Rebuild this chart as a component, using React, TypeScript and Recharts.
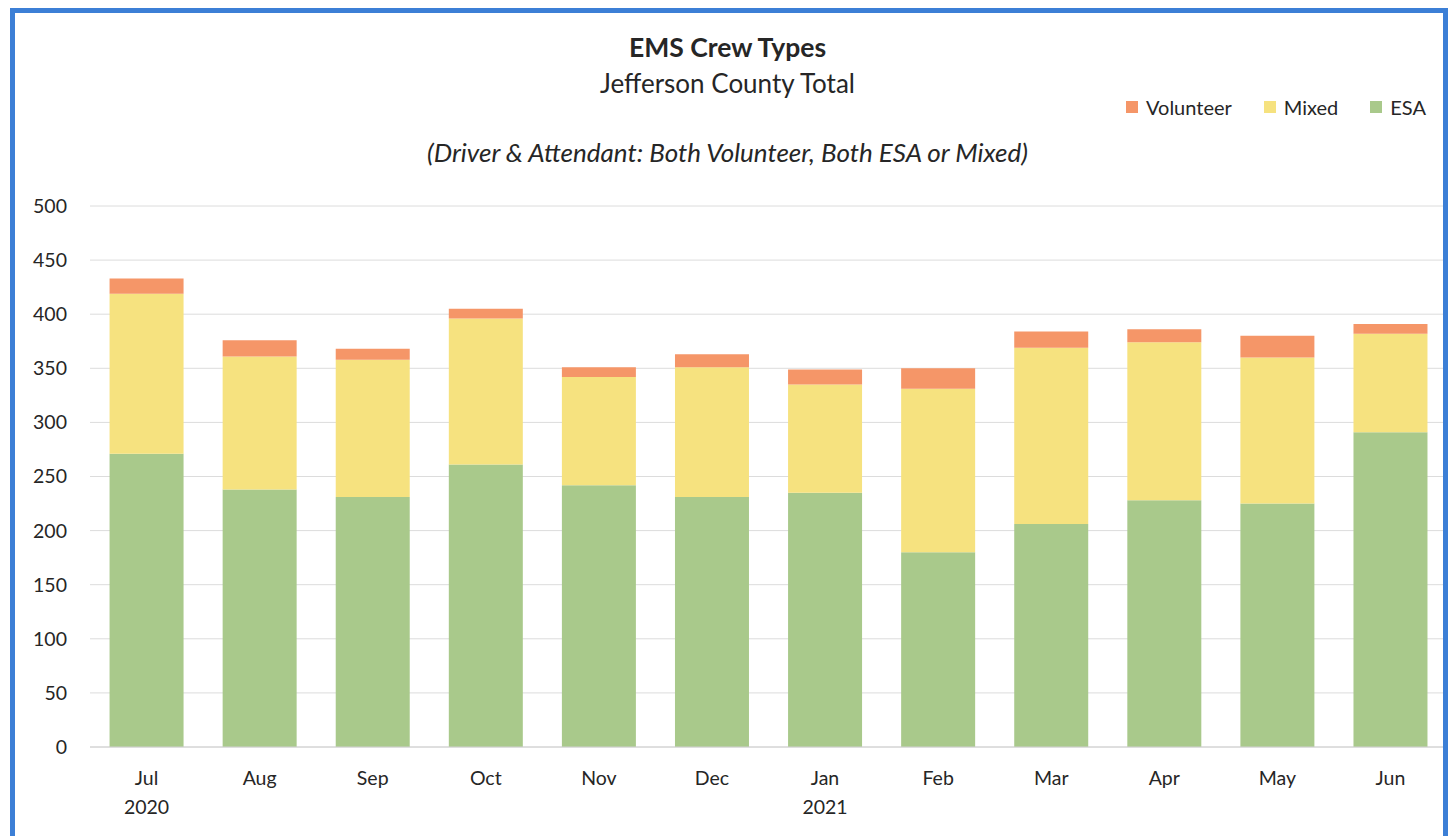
import React from "react";
import { BarChart, Bar, XAxis, YAxis, CartesianGrid } from "recharts";

const months = ["Jul", "Aug", "Sep", "Oct", "Nov", "Dec", "Jan", "Feb", "Mar", "Apr", "May", "Jun"];
const years = ["2020", "", "", "", "", "", "2021", "", "", "", "", ""];
const esa = [271, 238, 231, 261, 242, 231, 235, 180, 206, 228, 225, 291];
const mixed = [148, 123, 127, 135, 100, 120, 100, 151, 163, 146, 135, 91];
const volunteer = [14, 15, 10, 9, 9, 12, 14, 19, 15, 12, 20, 9];
const yTicks = [0, 50, 100, 150, 200, 250, 300, 350, 400, 450, 500];

const seriesNames = ["ESA", "Mixed", "Volunteer"];
const seriesColors = ["#a9c98b", "#f6e27f", "#f59668"];

const data = months.map((m, i) => ({
  month: m,
  year: years[i],
  ESA: esa[i],
  Mixed: mixed[i],
  Volunteer: volunteer[i],
}));

const FONT = "Lato, 'Noto Sans', sans-serif";
const TEXT = "#262626";

const MonthTick = (props: any) => {
  const { x, y, payload, index } = props;
  const yr = years[index] || "";
  return (
    <g>
      <text x={x} y={y + 30} textAnchor="middle" fontSize={19.5} fill={TEXT} fontFamily={FONT}>
        {payload.value}
      </text>
      {yr ? (
        <text x={x} y={y + 59} textAnchor="middle" fontSize={19.5} fill={TEXT} fontFamily={FONT}>
          {yr}
        </text>
      ) : null}
    </g>
  );
};

export default function App() {
  const legendItems = seriesNames.map((n, i) => ({ name: n, color: seriesColors[i] })).reverse();
  return (
    <div style={{ position: "fixed", left: 0, top: 0, width: 1455, height: 836, background: "#fff", overflow: "hidden" }}>
      <div
        style={{
          position: "absolute",
          left: 0,
          width: 1455,
          top: 32,
          textAlign: "center",
          fontFamily: FONT,
          color: TEXT,
          fontWeight: 700,
          fontSize: 26.5,
          lineHeight: "31px",
        }}
      >
        EMS Crew Types
      </div>
      <div
        style={{
          position: "absolute",
          left: 0,
          width: 1455,
          top: 68,
          textAlign: "center",
          fontFamily: FONT,
          color: TEXT,
          fontSize: 26,
          lineHeight: "31px",
        }}
      >
        Jefferson County Total
      </div>
      <div
        style={{
          position: "absolute",
          left: 0,
          width: 1455,
          top: 137,
          textAlign: "center",
          fontFamily: FONT,
          fontStyle: "italic",
          fontSize: 26,
          lineHeight: "30px",
          color: TEXT,
        }}
      >
        (Driver &amp; Attendant: Both Volunteer, Both ESA or Mixed)
      </div>
      <div
        style={{
          position: "absolute",
          right: 29,
          top: 94,
          height: 26,
          display: "flex",
          alignItems: "center",
          gap: 32,
          fontFamily: FONT,
          fontSize: 20,
          color: TEXT,
        }}
      >
        {legendItems.map((it) => (
          <div key={it.name} style={{ display: "flex", alignItems: "center" }}>
            <span style={{ width: 12, height: 12, background: it.color, display: "inline-block", marginRight: 8 }} />
            {it.name}
          </div>
        ))}
      </div>
      <div style={{ position: "absolute", left: 0, top: 0 }}>
        <BarChart
          width={1455}
          height={836}
          data={data}
          margin={{ top: 206, right: 8, bottom: 0, left: 30 }}
          barCategoryGap="17.3%"
        >
          <CartesianGrid vertical={false} stroke="#dcdcdc" />
          <XAxis
            dataKey="month"
            tickLine={false}
            axisLine={{ stroke: "#d0d0d0" }}
            tick={<MonthTick />}
            interval={0}
            height={89}
          />
          <YAxis
            domain={[0, 500]}
            ticks={yTicks}
            width={60}
            tickLine={false}
            axisLine={false}
            tickMargin={17}
            tick={{ fontSize: 19.5, fill: TEXT, fontFamily: FONT }}
          />
          {seriesNames.map((n, i) => (
            <Bar key={n} dataKey={n} stackId="a" fill={seriesColors[i]} isAnimationActive={false} />
          ))}
        </BarChart>
      </div>
      <div
        style={{
          position: "absolute",
          left: 10,
          top: 8,
          width: 1438,
          height: 840,
          border: "5px solid #3c7fd6",
          boxSizing: "border-box",
        }}
      />
    </div>
  );
}
